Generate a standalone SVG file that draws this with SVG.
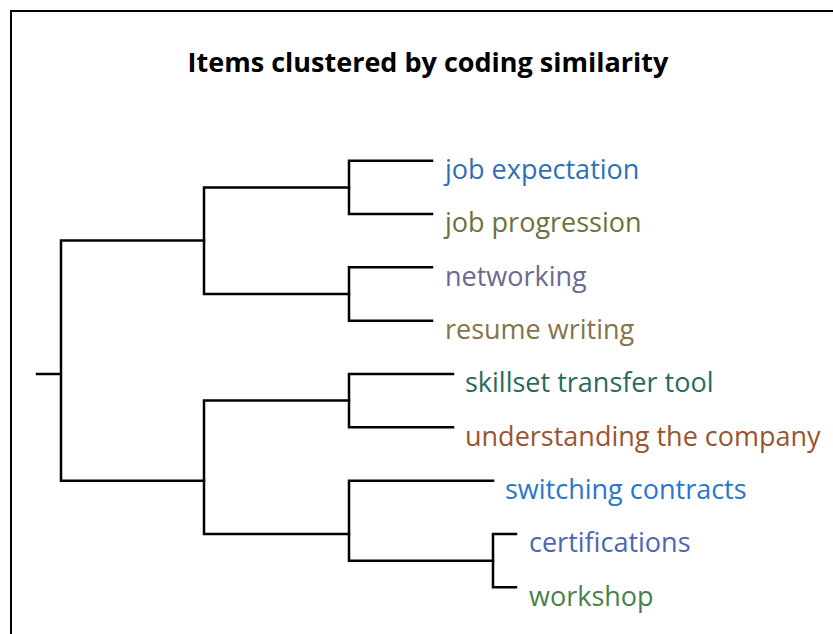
<svg xmlns="http://www.w3.org/2000/svg" width="833" height="634" viewBox="0 0 833 634">
  <style>
    .frame { fill: #ffffff; stroke: #000000; stroke-width: 2; }
    .title { font-family: "Open Sans", "Noto Sans", "Liberation Sans", sans-serif; font-weight: bold; font-size: 27px; fill: #000000; }
    .leaf { font-family: "Open Sans", "Noto Sans", "Liberation Sans", sans-serif; font-size: 27px; }
    .edge { fill: none; stroke: #000000; stroke-width: 2.5; stroke-linecap: square; stroke-linejoin: miter; }
  </style>

  <!-- page frame: only left and top edges fall inside the canvas -->
  <rect class="frame" x="11" y="11" width="840" height="640"/>

  <text class="title" x="428" y="72" text-anchor="middle">Items clustered by coding similarity</text>

  <!-- dendrogram branches -->
  <g id="connectors">
    <!-- root -->
    <path class="edge" d="M37 374 H61 M204 240.5 H61 V480.7 H204"/>
    <!-- upper cluster -->
    <path class="edge" d="M349 187.5 H204 V294 H349"/>
    <path class="edge" d="M432 160.7 H349 V214 H432"/>
    <path class="edge" d="M432 267.3 H349 V320.7 H432"/>
    <!-- lower cluster -->
    <path class="edge" d="M349 400.5 H204 V534 H349"/>
    <path class="edge" d="M453 374 H349 V427.3 H453"/>
    <path class="edge" d="M493 480.7 H349 V560.7 H493"/>
    <path class="edge" d="M516 534 H493 V587.3 H516"/>
  </g>

  <!-- leaves -->
  <g id="job-expectation"><text class="leaf" x="445" y="179" fill="#2e6fb8">job expectation</text></g>
  <g id="job-progression"><text class="leaf" x="445" y="232" fill="#6f7040">job progression</text></g>
  <g id="networking"><text class="leaf" x="445" y="285.5" fill="#6a6a92">networking</text></g>
  <g id="resume-writing"><text class="leaf" x="445" y="338.5" fill="#86744a">resume writing</text></g>
  <g id="skillset-transfer-tool"><text class="leaf" x="465" y="392" fill="#2a6a5c">skillset transfer tool</text></g>
  <g id="understanding-the-company"><text class="leaf" x="465" y="445.5" fill="#9a5430">understanding the company</text></g>
  <g id="switching-contracts"><text class="leaf" x="505" y="498.5" fill="#2a76cc">switching contracts</text></g>
  <g id="certifications"><text class="leaf" x="529" y="552" fill="#4a68b0">certifications</text></g>
  <g id="workshop"><text class="leaf" x="529" y="605.5" fill="#4a7f4a">workshop</text></g>
</svg>
